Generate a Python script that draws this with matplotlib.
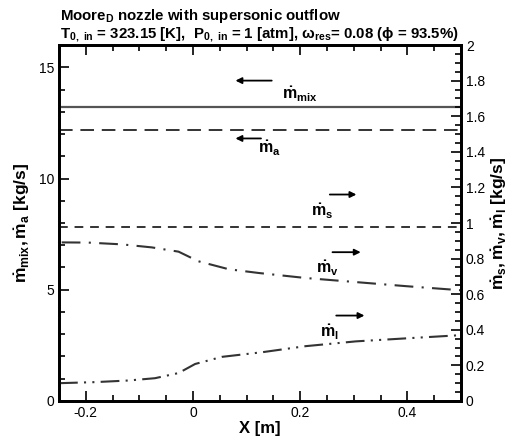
import matplotlib
matplotlib.use("Agg")
import matplotlib.pyplot as plt
from matplotlib.ticker import MultipleLocator

plt.rcParams['font.family'] = ['Liberation Sans', 'DejaVu Sans']
plt.rcParams['mathtext.fontset'] = 'custom'
plt.rcParams['mathtext.rm'] = 'Liberation Sans:bold'
plt.rcParams['mathtext.it'] = 'Liberation Sans:bold'
plt.rcParams['mathtext.bf'] = 'Liberation Sans:bold'
plt.rcParams['mathtext.default'] = 'bf'

# flow rates along the nozzle
x_range = [-0.25, 0.5]
m_mix = 13.2   # kg/s, left axis
m_a = 12.2     # kg/s, left axis
m_s = 0.98     # kg/s, right axis

x_v = [-0.245, -0.196, -0.133, -0.077, -0.027, 0.010, 0.067, 0.123, 0.21, 0.304, 0.398, 0.5]
m_v = [0.891, 0.890, 0.880, 0.863, 0.839, 0.785, 0.740, 0.719, 0.691, 0.668, 0.645, 0.622]

x_l = [-0.25, -0.183, -0.121, -0.071, -0.027, 0.004, 0.054, 0.129, 0.21, 0.304, 0.398, 0.5]
m_l = [0.100, 0.106, 0.115, 0.128, 0.157, 0.208, 0.248, 0.274, 0.308, 0.335, 0.352, 0.370]

fig = plt.figure(figsize=(5.10, 4.37), dpi=100)
ax = fig.add_axes([0.1157, 0.0824, 0.7883, 0.8146])
ax2 = ax.twinx()

ax.plot(x_range, [m_mix, m_mix], color='#555555', lw=1.6, ls='-')
ax.plot(x_range, [m_a, m_a], color='#333333', lw=1.4, ls=(0, (7, 4)))
ax2.plot(x_range, [m_s, m_s], color='#333333', lw=1.4, ls=(0, (4.5, 3.5)))
ax2.plot(x_v, m_v, color='#333333', lw=1.5, ls=(0, (9, 4, 1, 4)))
ax2.plot(x_l, m_l, color='#333333', lw=1.5, ls=(0, (9, 3, 1, 3, 1, 3)))

ax.set_xlim(-0.25, 0.5)
ax.set_ylim(0, 16)
ax2.set_ylim(0, 2)

ax.xaxis.set_major_locator(MultipleLocator(0.2))
ax.xaxis.set_minor_locator(MultipleLocator(0.05))
ax.yaxis.set_major_locator(MultipleLocator(5))
ax.yaxis.set_minor_locator(MultipleLocator(1))
ax2.yaxis.set_major_locator(MultipleLocator(0.2))
ax2.yaxis.set_minor_locator(MultipleLocator(0.05))
ax.xaxis.set_major_formatter(plt.FuncFormatter(lambda v, p: '0' if abs(v) < 1e-9 else f'{v:g}'))
ax2.yaxis.set_major_formatter(plt.FuncFormatter(lambda v, p: f'{v:g}'))

ax.tick_params(which='both', direction='in', top=True, labelsize=10, width=1.2)
ax.tick_params(which='major', length=7)
ax.tick_params(which='minor', length=4)
ax2.tick_params(which='both', direction='in', labelsize=10, width=1.2)
ax2.tick_params(which='major', length=7)
ax2.tick_params(which='minor', length=4)
for a in (ax, ax2):
    for s in a.spines.values():
        s.set_linewidth(2)

ax.set_xlabel('X [m]', fontsize=12, fontweight='bold', labelpad=1)
ax.set_ylabel(r'$\dot{m}_{mix}, \dot{m}_a$ [kg/s]', fontsize=12.5, fontweight='bold', labelpad=5)
ax2.set_ylabel(r'$\dot{m}_s, \dot{m}_v, \dot{m}_l$ [kg/s]', fontsize=12.5, fontweight='bold', labelpad=3)

arrow = dict(arrowstyle='-|>', color='black', lw=1.3, mutation_scale=9)
# left-pointing arrows (left axis)
ax.annotate('', xy=(0.074, 14.4), xytext=(0.152, 14.4), arrowprops=arrow)
ax.text(0.2, 13.35, r'$\dot{m}_{mix}$', fontsize=11.5, ha='center', va='bottom')
ax.annotate('', xy=(0.074, 11.8), xytext=(0.132, 11.8), arrowprops=arrow)
ax.text(0.142, 10.9, r'$\dot{m}_a$', fontsize=11.5, ha='center', va='bottom')
# right-pointing arrows (right axis)
ax2.annotate('', xy=(0.31, 1.16), xytext=(0.25, 1.16), arrowprops=arrow)
ax2.text(0.24, 1.01, r'$\dot{m}_s$', fontsize=11.5, ha='center', va='bottom')
ax2.annotate('', xy=(0.318, 0.836), xytext=(0.255, 0.836), arrowprops=arrow)
ax2.text(0.25, 0.69, r'$\dot{m}_v$', fontsize=11.5, ha='center', va='bottom')
ax2.annotate('', xy=(0.325, 0.48), xytext=(0.262, 0.48), arrowprops=arrow)
ax2.text(0.255, 0.33, r'$\dot{m}_l$', fontsize=11.5, ha='center', va='bottom')

fig.text(0.118, 0.955, r'Moore$_D$ nozzle with supersonic outflow', fontsize=10.8, fontweight='bold')
fig.text(0.118, 0.912, r'T$_{0,\ in}$ = 323.15 [K],  P$_{0,\ in}$ = 1 [atm], $\omega_{res}$= 0.08 ($\phi$ = 93.5%)',
         fontsize=10.8, fontweight='bold')

fig.savefig('out.png', dpi=100)
